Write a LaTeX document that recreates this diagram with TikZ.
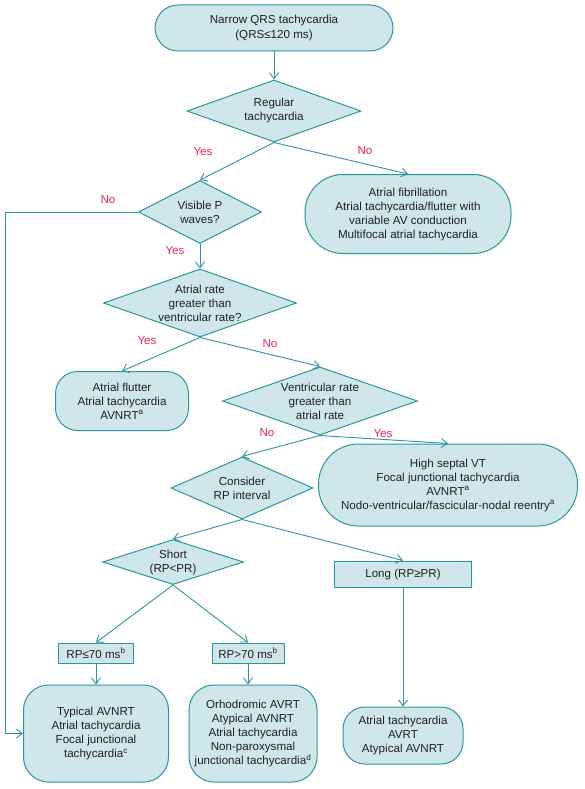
\documentclass[tikz,border=0pt]{standalone}
\usepackage{fontspec}
\setmainfont{Liberation Sans}
\usetikzlibrary{shapes.geometric,arrows.meta}
\definecolor{lineteal}{HTML}{2A96A2}
\definecolor{fillteal}{HTML}{CFE7EA}
\definecolor{ansred}{HTML}{E8264F}
\definecolor{txtdark}{HTML}{231F20}
\begin{document}
\begin{tikzpicture}[x=1pt,y=-1pt,>={Straight Barb[length=6pt,width=9pt]},
	every node/.style={font=\fontsize{11.6}{14}\selectfont,text=txtdark},
	term/.style={rectangle,rounded corners=#1,draw=lineteal,fill=fillteal,line width=1pt,inner sep=0pt,align=center},
	decision/.style={diamond,draw=lineteal,fill=fillteal,line width=1pt,inner sep=0pt},
	box/.style={rectangle,draw=lineteal,fill=fillteal,line width=1pt,inner sep=0pt,align=center},
	qtext/.style={align=center,inner sep=0pt},
	answer/.style={text=ansred,inner sep=0pt},
	conn/.style={draw=lineteal,line width=0.9pt,->}]
	\useasboundingbox[fill=white] (0,0) rectangle (584,789);
	% start and first split
	\node[term=23pt,minimum width=238pt,minimum height=46pt] (start) at (274,28) {Narrow QRS tachycardia\\(QRS≤120 ms)};
	\node[decision,minimum width=174pt,minimum height=62pt] (reg) at (274,111) {};
	\node[qtext] (regtxt) at (reg) {Regular\\tachycardia};
	\node[term=38pt,minimum width=206pt,minimum height=79pt] (afib) at (408,214) {Atrial fibrillation\\Atrial tachycardia/flutter with\\variable AV conduction\\Multifocal atrial tachycardia};
	\node[decision,minimum width=123pt,minimum height=63pt] (vis) at (200,212) {};
	\node[qtext] (vistxt) at (vis) {Visible P\\waves?};
	\node[decision,minimum width=193pt,minimum height=68pt] (atr) at (200,303) {};
	\node[qtext] (atrtxt) at (atr) {Atrial rate\\greater than\\ventricular rate?};
	\node[term=22pt,minimum width=133pt,minimum height=59pt] (flut) at (122,401) {Atrial flutter\\Atrial tachycardia\\AVNRT\textsuperscript{a}};
	\node[decision,minimum width=195pt,minimum height=68pt] (vent) at (320,401) {};
	\node[qtext] (venttxt) at (vent) {Ventricular rate\\greater than\\atrial rate};
	\node[term=40pt,minimum width=259pt,minimum height=82pt] (sept) at (448,485) {High septal VT\\Focal junctional tachycardia\\AVNRT\textsuperscript{a}\\Nodo-ventricular/fascicular-nodal reentry\textsuperscript{a}};
	\node[decision,minimum width=142pt,minimum height=62pt] (cons) at (242,488) {};
	\node[qtext] (constxt) at (cons) {Consider\\RP interval};
	% RP interval
	\node[decision,minimum width=141pt,minimum height=45pt] (short) at (173,562) {};
	\node[qtext] (shorttxt) at (short) {Short\\(RP<PR)};
	\node[box,minimum width=137pt,minimum height=26pt] (long) at (403,574) {Long (RP≥PR)};
	\node[box,minimum width=75pt,minimum height=20pt] (rpa) at (96,653) {RP≤70 ms\textsuperscript{b}};
	\node[box,minimum width=72pt,minimum height=20pt] (rpb) at (248,653) {RP>70 ms\textsuperscript{b}};
	\node[term=25pt,minimum width=145pt,minimum height=97pt] (typ) at (96,733.5) {Typical AVNRT\\Atrial tachycardia\\Focal junctional\\tachycardia\textsuperscript{c}};
	\node[term=25pt,minimum width=128pt,minimum height=97pt] (orth) at (253,733.5) {Orhodromic AVRT\\Atypical AVNRT\\Atrial tachycardia\\Non-paroxysmal\\junctional tachycardia\textsuperscript{d}};
	\node[term=22pt,minimum width=120pt,minimum height=57pt] (atach) at (403,735.5) {Atrial tachycardia\\AVRT\\Atypical AVNRT};
	\coordinate (noleft) at (5,212);
	% connectors
	\draw[conn] (start) -- (reg);
	\draw[conn] (reg.south) -- (vis.north);
	\draw[conn] (reg.south) -- (afib.north);
	\draw[conn] (vis.west) -- (noleft) |- (typ.west);
	\draw[conn] (vis.south) -- (atr.north);
	\draw[conn] (atr.south) -- (flut.north);
	\draw[conn] (atr.south) -- (vent.north);
	\draw[conn] (vent.south) -- (cons.north);
	\draw[conn] (vent.south) -- (sept.north);
	\draw[conn] (cons.south) -- (short.north);
	\draw[conn] (cons.south) -- (long.north);
	\draw[conn] (short.south) -- (rpa.north);
	\draw[conn] (short.south) -- (rpb.north);
	\draw[conn] (rpa) -- (typ);
	\draw[conn] (rpb.south) -- (rpb.south |- orth.north);
	\draw[conn] (long) -- (atach);
	% answers
	\node[answer] (yes1) at (203,152) {Yes};
	\node[answer] (no1) at (365,151) {No};
	\node[answer] (no2) at (108,200) {No};
	\node[answer] (yes2) at (175,251) {Yes};
	\node[answer] (yes3) at (147,341) {Yes};
	\node[answer] (no3) at (270,344) {No};
	\node[answer] (no4) at (267,433) {No};
	\node[answer] (yes4) at (383,434) {Yes};
\end{tikzpicture}
\end{document}
